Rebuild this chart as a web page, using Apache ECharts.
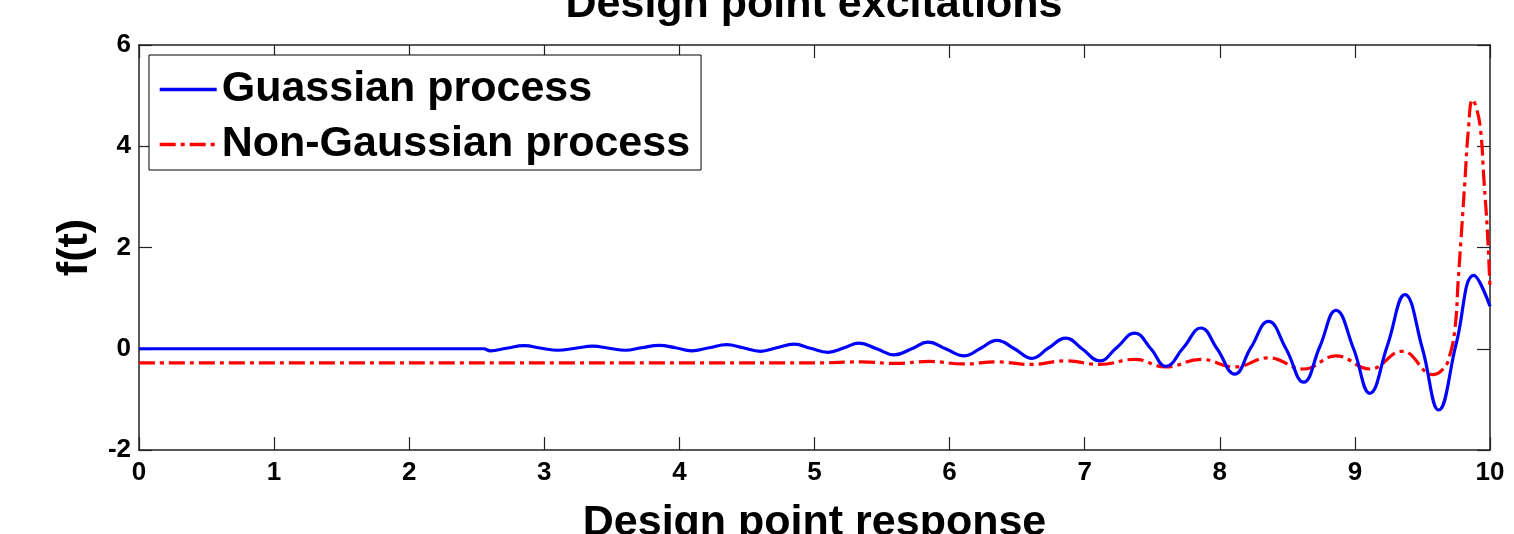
<!DOCTYPE html>
<html>
<head>
<meta charset="utf-8">
<title>Design point excitations</title>
<script src="https://cdn.jsdelivr.net/npm/echarts@6/dist/echarts.min.js"></script>
<style>
  html, body { margin: 0; padding: 0; background: #fff; }
  #chart { width: 1514px; height: 534px; }
</style>
</head>
<body>
<div id="chart"></div>
<script>
// Time positions (s) and excitation values of the Gaussian process
const gaussX = [0, 2.5, 2.55, 2.6, 2.72, 2.85, 2.98, 3.1, 3.23, 3.36, 3.48, 3.6, 3.72, 3.85, 3.97,
  4.09, 4.22, 4.35, 4.47, 4.6, 4.72, 4.85, 4.97, 5.1, 5.22, 5.33, 5.46, 5.59, 5.72, 5.84, 5.97,
  6.11, 6.23, 6.35, 6.48, 6.61, 6.73, 6.86, 6.98, 7.11, 7.24, 7.37, 7.49, 7.6, 7.73, 7.86, 7.98,
  8.11, 8.23, 8.36, 8.49, 8.62, 8.74, 8.86, 8.99, 9.11, 9.24, 9.37, 9.5, 9.62, 9.75, 9.88, 10];
const gaussY = [0, 0, 0, -0.04, 0.01, 0.06, 0.01, -0.03, 0.01, 0.05, 0.01, -0.03, 0.02, 0.065, 0.02,
  -0.04, 0.02, 0.08, 0.02, -0.05, 0.02, 0.09, 0.01, -0.07, 0.02, 0.11, 0.0, -0.12, 0.0, 0.13, 0.0,
  -0.14, 0.01, 0.165, 0.0, -0.19, 0.01, 0.21, 0.0, -0.24, 0.03, 0.31, 0.0, -0.35, 0.02, 0.41, 0.0,
  -0.5, 0.02, 0.54, 0.0, -0.66, 0.04, 0.76, 0.0, -0.88, 0.06, 1.07, 0.0, -1.21, 0.1, 1.45, 0.84];

// Time positions (s) and excitation values of the non-Gaussian process
const nonGaussX = [0, 5.0, 5.35, 5.6, 5.85, 6.1, 6.35, 6.6, 6.86, 7.11, 7.37, 7.6, 7.86, 8.11,
  8.36, 8.62, 8.86, 9.11, 9.35, 9.58, 9.66, 9.7, 9.74, 9.765, 9.79, 9.815, 9.84, 9.87, 9.9,
  9.93, 9.955, 9.98, 10];
const nonGaussY = [-0.28, -0.28, -0.26, -0.29, -0.25, -0.3, -0.26, -0.31, -0.24, -0.31, -0.21, -0.36,
  -0.21, -0.36, -0.18, -0.4, -0.14, -0.4, -0.05, -0.51, -0.38, -0.15, 0.38, 1.36, 2.35, 3.34,
  4.33, 4.92, 4.75, 4.33, 3.34, 2.35, 1.2];

// Axis tick values
const xTicks = [0, 1, 2, 3, 4, 5, 6, 7, 8, 9, 10];
const yTicks = [-2, 0, 2, 4, 6];

const seriesNames = ['Guassian process', 'Non-Gaussian process'];
const titleText = 'Design point excitations';
const xName = 'Design point response';
const yName = 'f(t)';

const FONT = '"Liberation Sans", Arial, Helvetica, sans-serif';

function pairs(xs, ys) { return xs.map((x, i) => [x, ys[i]]); }

const chart = echarts.init(document.getElementById('chart'), null, { renderer: 'canvas' });

const axisLineStyle = { color: '#222', width: 1.5 };
const baseX = {
  type: 'value', min: xTicks[0], max: xTicks[xTicks.length - 1], interval: 1,
  splitLine: { show: false },
  axisLine: { show: true, onZero: false, lineStyle: axisLineStyle },
  axisTick: { show: true, inside: true, length: 13, lineStyle: { color: '#222', width: 1.2 } }
};
const baseY = {
  type: 'value', min: yTicks[0], max: yTicks[yTicks.length - 1], interval: 2,
  splitLine: { show: false },
  axisLine: { show: true, onZero: false, lineStyle: axisLineStyle },
  axisTick: { show: true, inside: true, length: 13, lineStyle: { color: '#222', width: 1.2 } }
};

chart.setOption({
  animation: false,
  backgroundColor: '#fff',
  grid: { left: 139, right: 24, top: 45, bottom: 84, containLabel: false, outerBoundsMode: 'none' },
  graphic: [{
    type: 'text',
    x: 814, y: 5,
    style: {
      text: titleText, align: 'center', verticalAlign: 'middle',
      font: 'bold 43px ' + FONT, fill: '#000'
    }
  }],
  legend: {
    data: seriesNames,
    orient: 'vertical',
    left: 149, top: 55,
    padding: [13, 11, 4, 9],
    itemGap: 12,
    itemWidth: 57, itemHeight: 14,
    backgroundColor: '#fff',
    borderColor: '#000', borderWidth: 1, borderRadius: 0,
    itemStyle: { opacity: 0 },
    lineStyle: { width: 3.4 },
    textStyle: { fontFamily: FONT, fontWeight: 'bold', fontSize: 43, color: '#000' }
  },
  xAxis: [
    Object.assign({}, baseX, {
      position: 'bottom',
      name: xName, nameLocation: 'middle', nameGap: 52,
      nameTextStyle: { fontFamily: FONT, fontWeight: 'bold', fontSize: 43, color: '#000' },
      axisLabel: {
        margin: 10, fontFamily: FONT, fontWeight: 'bold', fontSize: 26, color: '#000',
        formatter: v => String(v)
      }
    }),
    Object.assign({}, baseX, { position: 'top', axisLabel: { show: false } })
  ],
  yAxis: [
    Object.assign({}, baseY, {
      position: 'left',
      name: yName, nameLocation: 'middle', nameGap: 42,
      nameTextStyle: { fontFamily: FONT, fontWeight: 'bold', fontSize: 43, color: '#000' },
      axisLabel: {
        margin: 8, fontFamily: FONT, fontWeight: 'bold', fontSize: 26, color: '#000',
        formatter: v => String(v)
      }
    }),
    Object.assign({}, baseY, { position: 'right', axisLabel: { show: false } })
  ],
  series: [
    {
      name: seriesNames[0], type: 'line', xAxisIndex: 0, yAxisIndex: 0,
      data: pairs(gaussX, gaussY),
      showSymbol: false, symbol: 'none', smooth: 0.45,
      lineStyle: { color: '#0000ff', width: 3.2 },
      itemStyle: { color: '#0000ff' },
      z: 3
    },
    {
      name: seriesNames[1], type: 'line', xAxisIndex: 0, yAxisIndex: 0,
      data: pairs(nonGaussX, nonGaussY),
      showSymbol: false, symbol: 'none', smooth: 0.45,
      lineStyle: { color: '#ff0000', width: 3.2, type: [16, 5, 4, 5] },
      itemStyle: { color: '#ff0000' },
      z: 2
    }
  ]
});
</script>
</body>
</html>
